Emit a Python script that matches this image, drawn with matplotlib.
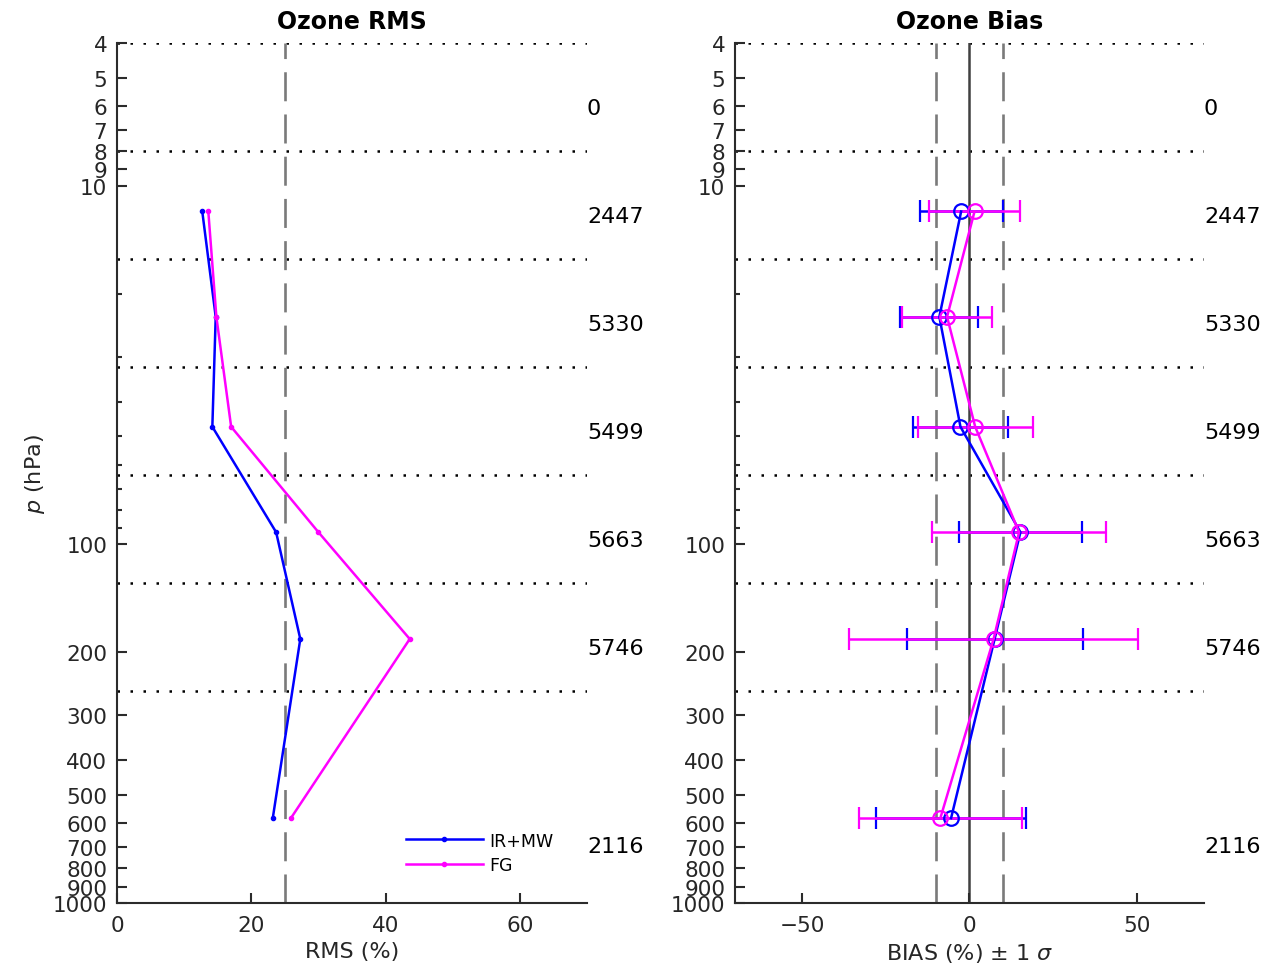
import numpy as np
import matplotlib
matplotlib.use("Agg")
import matplotlib.pyplot as plt
from matplotlib.ticker import FixedLocator, FixedFormatter, NullFormatter

# ---------------- data ----------------
p_points = [11.8, 23.2, 47.0, 92.5, 183.6, 580.0]          # hPa, layer mean pressures of points
layer_bounds = [4, 8, 16, 32, 64, 128, 256]                  # hPa, dotted layer boundaries
count_p = [6, 12, 24, 48, 96, 192, 685]                      # hPa, positions of count labels
counts = ["0", "2447", "5330", "5499", "5663", "5746", "2116"]

rms_irmw = [12.7, 14.7, 14.2, 23.7, 27.3, 23.2]
rms_fg = [13.6, 14.8, 17.0, 30.0, 43.6, 25.9]

bias_irmw = [-2.5, -9.0, -2.7, 15.2, 7.5, -5.5]
sigma_irmw = [12.4, 11.6, 14.1, 18.4, 26.3, 22.5]
bias_fg = [1.5, -6.7, 1.7, 14.8, 7.2, -8.7]
sigma_fg = [13.6, 13.3, 17.2, 25.9, 43.2, 24.4]

yticks_major = [4, 5, 6, 7, 8, 9, 10, 100, 200, 300, 400, 500, 600, 700, 800, 900, 1000]
ytick_labels = ["4", "5", "6", "7", "8", "9", "10", "100", "200", "300", "400",
                "500", "600", "700", "800", "900", "1000"]
yticks_minor = [20, 30, 40, 50, 60, 70, 80, 90]

rms_xticks = [0, 20, 40, 60]
bias_xticks = [-50, 0, 50]
rms_ref = 25
bias_ref = [-10, 10]

BLUE = "#0000ff"
MAG = "#ff00ff"
AXC = "#2b2b2b"

plt.rcParams['font.family'] = ['DejaVu Sans']
plt.rcParams['mathtext.fontset'] = 'dejavusans'

fig = plt.figure(figsize=(12.68, 9.78), dpi=100)
ax1 = fig.add_axes([117 / 1268, 1 - 904 / 978, 470 / 1268, 860 / 978])
ax2 = fig.add_axes([735 / 1268, 1 - 904 / 978, 469 / 1268, 860 / 978])


def style_axis(ax):
    ax.set_yscale('log')
    ax.set_ylim(1000, 4)
    ax.yaxis.set_major_locator(FixedLocator(yticks_major))
    ax.yaxis.set_major_formatter(FixedFormatter(ytick_labels))
    ax.yaxis.set_minor_locator(FixedLocator(yticks_minor))
    ax.yaxis.set_minor_formatter(NullFormatter())
    for s in ['top', 'right']:
        ax.spines[s].set_visible(False)
    for s in ['left', 'bottom']:
        ax.spines[s].set_color(AXC)
        ax.spines[s].set_linewidth(1.5)
    ax.tick_params(axis='both', which='major', direction='in', length=7, width=1.5,
                   color=AXC, labelsize=15.5, labelcolor='#262626')
    ax.tick_params(axis='y', which='major', pad=7)
    ax.tick_params(axis='x', which='major', pad=9)
    ax.tick_params(axis='y', which='minor', direction='in', length=3.5, width=1.5, color=AXC)
    ax.tick_params(axis='x', which='minor', length=0)
    for pb in layer_bounds:
        ax.axhline(pb, color='k', ls=(0, (1, 4.2)), lw=1.8, zorder=1)
    for pc, c in zip(count_p, counts):
        ax.text(1.0, pc, c, transform=ax.get_yaxis_transform(), ha='left',
                va='center_baseline', fontsize=16, color='k', clip_on=False)


# ---------------- RMS panel ----------------
style_axis(ax1)
ax1.set_xlim(0, 70)
ax1.set_xticks(rms_xticks)
ax1.axvline(rms_ref, color='#7a7a7a', ls=(0, (11, 5)), lw=1.9, zorder=1)
ax1.plot(rms_irmw, p_points, color=BLUE, lw=1.8, marker='.', ms=6, label='IR+MW', zorder=3)
ax1.plot(rms_fg, p_points, color=MAG, lw=1.8, marker='.', ms=6, label='FG', zorder=3)
ax1.set_title('Ozone RMS', fontsize=17, fontweight='bold', pad=11)
ax1.set_xlabel('RMS (%)', fontsize=16, color='#262626', labelpad=4)
ax1.set_ylabel(r'$p$ (hPa)', fontsize=16, color='#262626', labelpad=4)
leg = ax1.legend(loc='lower right', bbox_to_anchor=(0.955, 0.02), frameon=False,
                 fontsize=12.5, handlelength=4.4, handletextpad=0.4, labelspacing=0.35,
                 borderpad=0.2)

# ---------------- Bias panel ----------------
style_axis(ax2)
ax2.set_xlim(-70, 70)
ax2.set_xticks(bias_xticks)
for xr in bias_ref:
    ax2.axvline(xr, color='#7a7a7a', ls=(0, (11, 5)), lw=1.9, zorder=1)
ax2.axvline(0, color='#404040', lw=1.8, zorder=1)
ax2.errorbar(bias_irmw, p_points, xerr=sigma_irmw, color=BLUE, lw=1.8, elinewidth=1.8,
             capsize=8, capthick=1.8, marker='o', ms=10.5, mfc='none', mec=BLUE, mew=1.6,
             zorder=3)
ax2.errorbar(bias_fg, p_points, xerr=sigma_fg, color=MAG, lw=1.8, elinewidth=1.8,
             capsize=8, capthick=1.8, marker='o', ms=10.5, mfc='none', mec=MAG, mew=1.6,
             zorder=3)
ax2.set_title('Ozone Bias', fontsize=17, fontweight='bold', pad=11)
ax2.set_xlabel(r'BIAS (%) $\pm$ 1 $\sigma$', fontsize=16, color='#262626', labelpad=4)

fig.savefig('out.png', dpi=100)
